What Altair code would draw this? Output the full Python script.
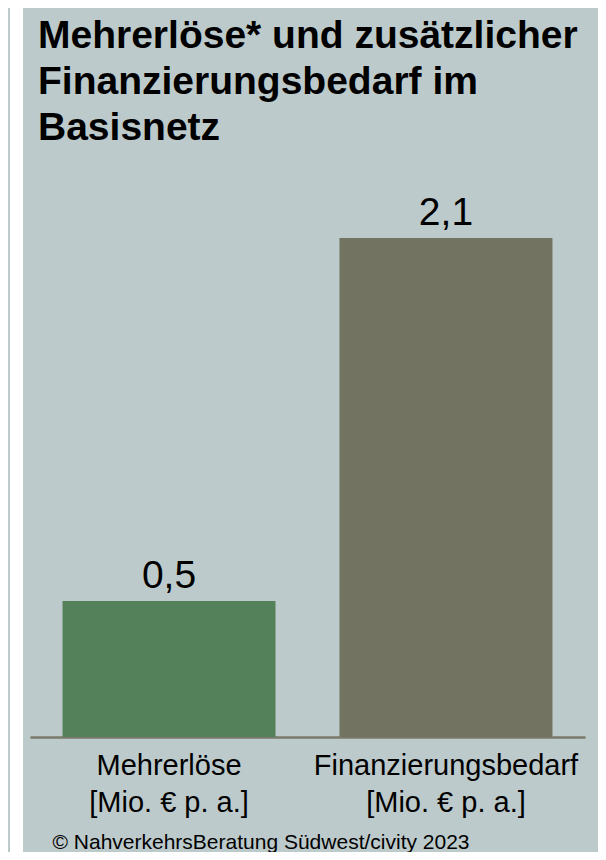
import altair as alt
import pandas as pd

# ---- data ----
categories = ["Mehrerlöse|[Mio. € p. a.]", "Finanzierungsbedarf|[Mio. € p. a.]"]
values = [0.5, 2.1]
value_labels = ["0,5", "2,1"]
bar_colors = ["#548159", "#727361"]
baseline_value = -0.1  # visual baseline of the original graphic

title_lines = ["Mehrerlöse* und zusätzlicher", "Finanzierungsbedarf im", "Basisnetz"]
footer = "© NahverkehrsBeratung Südwest/civity 2023"

df = pd.DataFrame({
    "cat": categories,
    "value": values,
    "label": value_labels,
    "color": bar_colors,
    "base": [baseline_value] * len(values),
})

BG = "#BDCACB"
FONT = "Liberation Sans"

PAD = {"left": 22, "top": 162, "right": 13, "bottom": 115}
W, H = 555, 567

x_enc = alt.X(
    "cat:N",
    sort=categories,
    scale=alt.Scale(paddingInner=0.231, paddingOuter=0.1175),
    axis=alt.Axis(
        title=footer,
        titleFontSize=21,
        titleFontWeight="normal",
        titleFont=FONT,
        titleColor="#000000",
        titleAnchor="start",
        titleAlign="left",
        titleBaseline="alphabetic",
        titleX=22,
        titleY=111,
        labelExpr="split(datum.label, '|')",
        labelFontSize=29,
        labelFont=FONT,
        labelColor="#000000",
        labelLineHeight=37,
        labelPadding=14,
        labelAngle=0,
        labelBaseline="top",
        labelLimit=500,
        labelOverlap=False,
        ticks=False,
        domainColor="#7A7A6A",
        domainWidth=2.5,
        grid=False,
    ),
)
y_scale = alt.Scale(domain=[-0.1, 2.4], nice=False, zero=False)

base = alt.Chart(df)

bars = base.mark_bar().encode(
    x=x_enc,
    y=alt.Y("value:Q", scale=y_scale, axis=None),
    y2="base:Q",
    color=alt.Color("color:N", scale=None, legend=None),
)

texts = base.mark_text(
    baseline="alphabetic", dy=-13, fontSize=39, font=FONT, color="#000000"
).encode(
    x=alt.X("cat:N", sort=categories),
    y=alt.Y("value:Q", scale=y_scale),
    text="label:N",
)

strip = alt.Chart(df.head(1)).mark_rect(color="#FFFFFF").encode(
    x=alt.value(-20), x2=alt.value(-7),
    y=alt.value(-PAD["top"]), y2=alt.value(H + PAD["bottom"])
)

chart = alt.layer(strip, bars, texts).properties(
    width=W,
    height=H,
    background=BG,
    padding=PAD,
    autosize=alt.AutoSizeParams(type="none"),
    title=alt.TitleParams(
        text=title_lines,
        anchor="start",
        frame="group",
        font=FONT,
        fontSize=39,
        fontWeight="bold",
        color="#000000",
        lineHeight=46,
        dx=8,
        dy=140,
        offset=0,
    ),
).configure_view(stroke=None)

chart.save("out.html", embed_options={"renderer": "svg", "actions": False})
